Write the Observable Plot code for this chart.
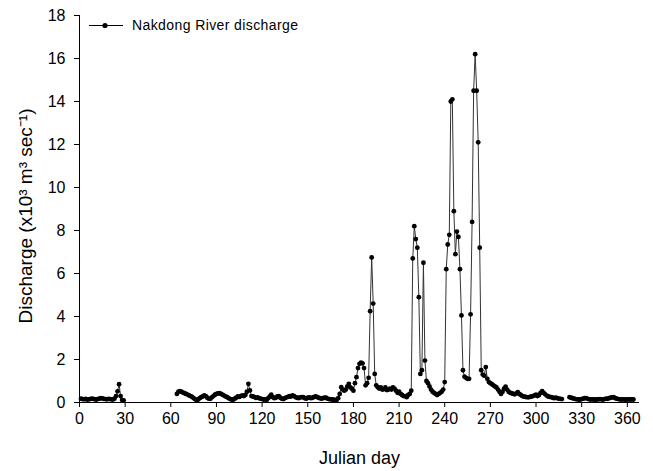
<!DOCTYPE html>
<html>
<head>
<meta charset="utf-8">
<script src="https://cdn.jsdelivr.net/npm/d3@7"></script>
<script src="https://cdn.jsdelivr.net/npm/@observablehq/plot@0.6"></script>
<style>
  html, body { margin: 0; padding: 0; background: white; }
  #chart { position: relative; width: 653px; height: 471px; }
</style>
</head>
<body>
<div id="chart"></div>
<script>
// Segment start days (Julian day) and daily discharge values (x10^3 m^3 s^-1)
const segStarts = [1, 64, 322];
const segJan = [0.18,0.16,0.15,0.17,0.14,0.15,0.16,0.18,0.17,0.15,0.14,0.16,0.18,0.2,0.19,0.17,0.16,0.15,0.17,0.16,0.15,0.14,0.18,0.3,0.52,0.85,0.3,0.12,0.1];
const segMain = [
  0.4,0.5,0.53,0.5,0.46,0.43,0.4,0.37,0.33,0.3,
  0.26,0.2,0.15,0.12,0.14,0.2,0.25,0.28,0.33,0.3,
  0.22,0.18,0.17,0.24,0.3,0.36,0.4,0.42,0.43,0.4,
  0.36,0.32,0.28,0.25,0.2,0.16,0.14,0.13,0.18,0.22,
  0.28,0.26,0.3,0.33,0.3,0.35,0.5,0.87,0.56,0.3,
  0.28,0.25,0.22,0.24,0.2,0.18,0.16,0.14,0.15,0.12,
  0.2,0.28,0.36,0.25,0.2,0.22,0.28,0.3,0.22,0.18,
  0.16,0.2,0.24,0.26,0.3,0.28,0.33,0.3,0.25,0.22,
  0.2,0.24,0.25,0.25,0.2,0.18,0.22,0.24,0.2,0.22,
  0.25,0.28,0.26,0.22,0.2,0.18,0.2,0.22,0.22,0.18,
  0.16,0.15,0.14,0.13,0.12,0.12,0.2,0.4,0.71,0.6,
  0.55,0.6,0.75,0.87,0.7,0.64,0.55,0.9,1.18,1.6,
  1.8,1.85,1.82,1.6,0.8,0.9,1.15,4.25,6.75,4.6,
  1.33,0.8,0.71,0.65,0.7,0.6,0.62,0.7,0.58,0.6,
  0.65,0.6,0.7,0.65,0.55,0.45,0.5,0.4,0.35,0.3,
  0.3,0.25,0.35,0.4,0.55,6.7,8.2,7.6,7.2,4.9,
  1.33,1.5,6.5,1.95,1.0,0.9,0.75,0.6,0.5,0.45,
  0.4,0.35,0.4,0.45,0.5,0.6,0.95,6.2,7.35,7.8,
  14.0,14.1,8.9,6.9,7.95,7.7,6.2,4.05,1.5,1.2,
  1.15,1.1,1.1,4.1,8.4,14.5,16.2,14.5,12.1,7.2,
  1.5,1.3,1.25,1.65,1.1,0.95,0.9,0.85,0.8,0.75,
  0.7,0.6,0.5,0.4,0.5,0.65,0.74,0.6,0.5,0.45,
  0.43,0.4,0.38,0.42,0.48,0.4,0.35,0.3,0.28,0.26,
  0.25,0.24,0.26,0.28,0.3,0.33,0.36,0.3,0.35,0.45,
  0.53,0.45,0.38,0.32,0.28,0.26,0.25,0.22,0.2,0.22,
  0.2,0.18,0.17,0.16
];
const segDec = [
  0.25,0.22,0.2,0.18,0.16,0.15,0.14,0.14,0.16,0.18,
  0.2,0.2,0.17,0.15,0.14,0.15,0.14,0.13,0.14,0.15,
  0.16,0.15,0.14,0.16,0.18,0.17,0.2,0.22,0.24,0.25,
  0.2,0.18,0.16,0.15,0.14,0.15,0.14,0.13,0.14,0.15,
  0.14,0.15,0.14
];
const xTicks = [0,30,60,90,120,150,180,210,240,270,300,330,360];
const yTicks = [0,2,4,6,8,10,12,14,16,18];
const seriesName = "Nakdong River discharge";
const xLabel = "Julian day";
const yLabel = "Discharge (x10³ m³ sec⁻¹)";

const segments = [segJan, segMain, segDec];
const data = segments.flatMap((vals, si) => vals.map((v, i) => ({day: segStarts[si] + i, q: v, seg: si})));

const chart = Plot.plot({
  width: 653,
  height: 471,
  marginLeft: 79,
  marginRight: 14,
  marginTop: 15,
  marginBottom: 69,
  style: {fontFamily: "'Liberation Sans', Arial, sans-serif", fontSize: "16px", background: "white", color: "black", overflow: "visible"},
  x: {domain: [0, 368]},
  y: {domain: [0, 18]},
  marks: [
    Plot.axisX({ticks: xTicks, tickSize: 5, tickPadding: 5, label: xLabel, labelAnchor: "center", labelArrow: "none", labelOffset: 61, fontSize: 16}),
    Plot.axisY({ticks: yTicks, tickSize: 5, tickPadding: 9, label: yLabel, labelAnchor: "center", labelArrow: "none", labelOffset: 61, fontSize: 16}),
    Plot.ruleX([0], {stroke: "black"}),
    Plot.ruleY([0], {stroke: "black"}),
    Plot.line(data, {x: "day", y: "q", z: "seg", stroke: "#333", strokeWidth: 1}),
    Plot.dot(data, {x: "day", y: "q", r: 2.4, fill: "black", stroke: "none"})
  ]
});

document.getElementById("chart").appendChild(chart);

// Legend inside plot area (top-left)
const svg = d3.select(chart);
const lg = svg.append("g").attr("class", "legend").attr("text-anchor", "start");
lg.append("line").attr("x1", 89).attr("x2", 123).attr("y1", 25.5).attr("y2", 25.5).attr("stroke", "black").attr("stroke-width", 1.2);
lg.append("circle").attr("cx", 105).attr("cy", 25.5).attr("r", 2.6).attr("fill", "black");
lg.append("text").attr("x", 132).attr("y", 25.5).attr("dy", "0.35em")
  .attr("text-anchor", "start")
  .attr("font-size", 14).attr("font-family", "'Liberation Sans', Arial, sans-serif")
  .attr("letter-spacing", "0.4px")
  .text(seriesName);

svg.selectAll('[aria-label="x-axis label"] text').attr("font-size", 18);
svg.selectAll('[aria-label="y-axis label"] text').attr("font-size", 19).attr("dx", -7);
</script>
</body>
</html>
